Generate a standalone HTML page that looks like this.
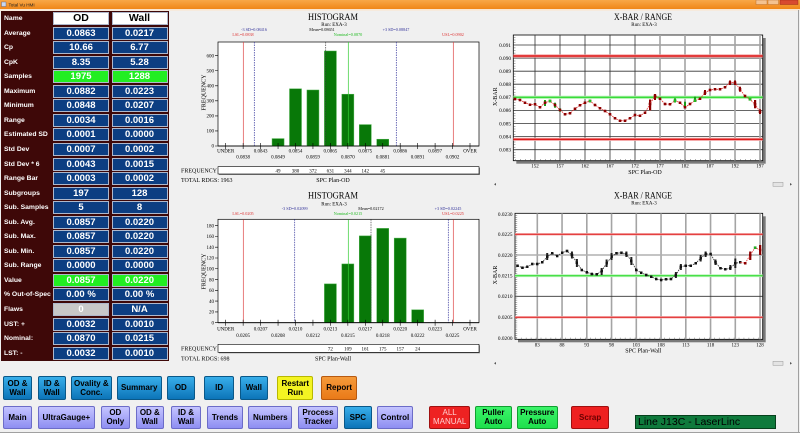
<!DOCTYPE html>
<html><head><meta charset="utf-8">
<style>
*{margin:0;padding:0;box-sizing:border-box}
body{width:800px;height:433px;overflow:hidden;background:#f0f0f0;position:relative;font-family:"Liberation Sans",Arial,sans-serif}
svg{position:absolute;left:0;top:0}
.lab{position:absolute;left:4px;color:#fff;font-weight:bold;font-size:6.8px;line-height:13px;white-space:nowrap}
.c{position:absolute;height:13px;width:56px;background:#0c3e82;border:1px solid #aeb8cc;color:#fff;font-weight:bold;font-size:9.5px;line-height:11px;text-align:center;white-space:nowrap}
.o{left:53px}.w{left:111.5px}
.g{background:#22ee22}
.h{background:#fff;color:#000;font-size:10.5px}
.gr{background:#c8c8c8}
.b{position:absolute;display:flex;align-items:center;justify-content:center;text-align:center;font-weight:bold;font-size:8px;line-height:9px;color:#000;border-radius:2px;white-space:nowrap}
.bl{background:linear-gradient(#38aeea,#0c74b8);border:1px solid #0a5888}
.lv{background:linear-gradient(#c4c4ff,#8e8ef2);border:1px solid #6c6cc8}
.r1{top:376px;height:23.5px}
.r2{top:405.7px;height:23.6px}
</style></head><body>

<svg width="800" height="433" viewBox="0 0 800 433" xmlns="http://www.w3.org/2000/svg">
<defs>
<linearGradient id="tb" x1="0" y1="0" x2="0" y2="1"><stop offset="0" stop-color="#f8a848"/><stop offset="1" stop-color="#f08618"/></linearGradient>
<marker id="mr" markerUnits="userSpaceOnUse" markerWidth="2.6" markerHeight="2.6" refX="1.3" refY="1.3"><rect width="2.6" height="2.6" fill="#8b0000"/></marker>
<marker id="mk" markerUnits="userSpaceOnUse" markerWidth="2.6" markerHeight="2.6" refX="1.3" refY="1.3"><rect width="2.6" height="2.6" fill="#111"/></marker>
</defs>
<!-- title bar -->
<rect x="0" y="0" width="800" height="9" fill="url(#tb)"/>
<rect x="0" y="9" width="800" height="1.6" fill="#fae6d0"/>
<rect x="1.5" y="2" width="4.5" height="4.5" fill="#c8d8f0" stroke="#557" stroke-width="0.4"/>
<text x="8.5" y="6.3" font-size="4.6" fill="#222" font-family="Liberation Sans, sans-serif">Total Vu HMI</text>
<rect x="756" y="0" width="11" height="4.5" fill="#f4c290" stroke="#b06020" stroke-width="0.4"/>
<rect x="768" y="0" width="10.5" height="4.5" fill="#f4c290" stroke="#b06020" stroke-width="0.4"/>
<rect x="780" y="0" width="18" height="4.5" fill="#d84a30" stroke="#902010" stroke-width="0.4"/>
<line x1="798.5" y1="10" x2="798.5" y2="433" stroke="#a0a0a0" stroke-width="1"/>
<line x1="0" y1="432.5" x2="800" y2="432.5" stroke="#a0a0a0" stroke-width="1"/>

<g font-family="Liberation Serif, serif" fill="#000">
<!-- ================= HISTOGRAM 1 ================= -->
<text x="333" y="20" font-size="9" text-anchor="middle" textLength="50" lengthAdjust="spacingAndGlyphs">HISTOGRAM</text>
<text x="334" y="26.2" font-size="5" text-anchor="middle">Run: EXA-3</text>
<g font-size="4.2" text-anchor="middle">
<text x="254" y="31" fill="#33339a">-3 SD=0.08416</text>
<text x="322" y="31">Mean=0.08651</text>
<text x="396" y="31" fill="#33339a">+3 SD=0.08847</text>
<text x="243" y="36" fill="#dd3333">LSL=0.0838</text>
<text x="348" y="36" fill="#22bb22">Nominal=0.0870</text>
<text x="453" y="36" fill="#dd3333">USL=0.0902</text>
</g>
<rect x="218" y="42" width="261" height="104" fill="#fff" stroke="#000" stroke-width="0.7"/>
<g fill="#087808" stroke="#48b048" stroke-width="0.5">
<rect x="272.05" y="138.6" width="12" height="7.4"/>
<rect x="289.5" y="88.8" width="12" height="57.2"/>
<rect x="306.95" y="90" width="12" height="56"/>
<rect x="324.4" y="51" width="12" height="95"/>
<rect x="341.85" y="94.2" width="12" height="51.8"/>
<rect x="359.3" y="124.6" width="12" height="21.4"/>
<rect x="376.75" y="139.2" width="12" height="6.8"/>
</g>
<g stroke-width="0.7">
<line x1="243.3" y1="42" x2="243.3" y2="146" stroke="#dd4444"/>
<line x1="254.3" y1="42" x2="254.3" y2="146" stroke="#33339a" stroke-dasharray="1.5 1"/>
<line x1="325.7" y1="42" x2="325.7" y2="146" stroke="#444" stroke-dasharray="1.5 1"/>
<line x1="348.3" y1="42" x2="348.3" y2="146" stroke="#33cc33"/>
<line x1="396.3" y1="42" x2="396.3" y2="146" stroke="#33339a" stroke-dasharray="1.5 1"/>
<line x1="453.3" y1="42" x2="453.3" y2="146" stroke="#dd4444"/>
</g>
<line x1="218" y1="146" x2="479" y2="146" stroke="#000" stroke-width="0.8"/>
<g font-size="5" text-anchor="end">
<text x="214" y="147.7">0</text><text x="214" y="132.6">100</text><text x="214" y="117.6">200</text><text x="214" y="102.5">300</text><text x="214" y="87.5">400</text><text x="214" y="72.4">500</text><text x="214" y="57.4">600</text>
</g>
<path d="M215 146H218M215 130.95H218M215 115.9H218M215 100.85H218M215 85.8H218M215 70.75H218M215 55.7H218" stroke="#000" stroke-width="0.6"/>
<path d="M225.7 143V149M243.15 143V149M260.6 143V149M278.05 143V149M295.5 143V149M312.95 143V149M330.4 143V149M347.85 143V149M365.3 143V149M382.75 143V149M400.2 143V149M417.65 143V149M435.1 143V149M452.55 143V149M470 143V149" stroke="#000" stroke-width="0.6"/>
<g font-size="5" text-anchor="middle">
<text x="225.7" y="152.5">UNDER</text><text x="260.6" y="152.5">0.0843</text><text x="295.5" y="152.5">0.0854</text><text x="330.4" y="152.5">0.0865</text><text x="365.3" y="152.5">0.0875</text><text x="400.2" y="152.5">0.0886</text><text x="435.1" y="152.5">0.0897</text><text x="470" y="152.5">OVER</text>
<text x="243.15" y="158.7">0.0838</text><text x="278.05" y="158.7">0.0849</text><text x="312.95" y="158.7">0.0859</text><text x="347.85" y="158.7">0.0870</text><text x="382.75" y="158.7">0.0881</text><text x="417.65" y="158.7">0.0891</text><text x="452.55" y="158.7">0.0902</text>
</g>
<text transform="translate(205.5,92.5) rotate(-90)" font-size="6" text-anchor="middle">FREQUENCY</text>
<rect x="219" y="167.7" width="261" height="7.3" fill="#888"/>
<rect x="218" y="166.7" width="261" height="7.3" fill="#fff" stroke="#000" stroke-width="0.6"/>
<text x="217" y="172.6" font-size="6" text-anchor="end">FREQUENCY</text>
<g font-size="5" text-anchor="middle">
<text x="278.05" y="172.4">49</text><text x="295.5" y="172.4">380</text><text x="312.95" y="172.4">372</text><text x="330.4" y="172.4">631</text><text x="347.85" y="172.4">344</text><text x="365.3" y="172.4">142</text><text x="382.75" y="172.4">45</text>
</g>
<text x="181" y="182" font-size="6">TOTAL RDGS: 1963</text>
<text x="333" y="182" font-size="6" text-anchor="middle">SPC Plan-OD</text>

<!-- ================= HISTOGRAM 2 ================= -->
<text x="333" y="198.5" font-size="9" text-anchor="middle" textLength="50" lengthAdjust="spacingAndGlyphs">HISTOGRAM</text>
<text x="334" y="205.5" font-size="5" text-anchor="middle">Run: EXA-3</text>
<g font-size="4.2" text-anchor="middle">
<text x="294.7" y="209.8" fill="#33339a">-3 SD=0.02099</text>
<text x="371" y="209.8">Mean=0.02172</text>
<text x="448" y="209.8" fill="#33339a">+3 SD=0.02245</text>
<text x="243" y="214.8" fill="#dd3333">LSL=0.0205</text>
<text x="348" y="214.8" fill="#22bb22">Nominal=0.0215</text>
<text x="453" y="214.8" fill="#dd3333">USL=0.0225</text>
</g>
<rect x="218" y="219.3" width="261" height="103.4" fill="#fff" stroke="#000" stroke-width="0.7"/>
<g fill="#087808" stroke="#48b048" stroke-width="0.5">
<rect x="324.4" y="283.9" width="12" height="38.8"/>
<rect x="341.85" y="263.95" width="12" height="58.75"/>
<rect x="359.3" y="235.9" width="12" height="86.8"/>
<rect x="376.75" y="228.4" width="12" height="94.3"/>
<rect x="394.2" y="238.1" width="12" height="84.6"/>
<rect x="411.65" y="309.8" width="12" height="12.9"/>
</g>
<g stroke-width="0.7">
<line x1="243.3" y1="219.3" x2="243.3" y2="322.7" stroke="#dd4444"/>
<line x1="294.7" y1="219.3" x2="294.7" y2="322.7" stroke="#33339a" stroke-dasharray="1.5 1"/>
<line x1="348.3" y1="219.3" x2="348.3" y2="322.7" stroke="#33cc33"/>
<line x1="371" y1="219.3" x2="371" y2="322.7" stroke="#444" stroke-dasharray="1.5 1"/>
<line x1="448.3" y1="219.3" x2="448.3" y2="322.7" stroke="#33339a" stroke-dasharray="1.5 1"/>
<line x1="453.3" y1="219.3" x2="453.3" y2="322.7" stroke="#dd4444"/>
</g>
<line x1="218" y1="322.7" x2="479" y2="322.7" stroke="#000" stroke-width="0.8"/>
<g font-size="5" text-anchor="end">
<text x="214" y="324.4">0</text><text x="214" y="313.6">20</text><text x="214" y="302.8">40</text><text x="214" y="292.1">60</text><text x="214" y="281.3">80</text><text x="214" y="270.5">100</text><text x="214" y="259.7">120</text><text x="214" y="248.9">140</text><text x="214" y="238.2">160</text><text x="214" y="227.4">180</text>
</g>
<path d="M215 322.7H218M215 311.9H218M215 301.1H218M215 290.4H218M215 279.6H218M215 268.75H218M215 258H218M215 247.2H218M215 236.5H218M215 225.7H218" stroke="#000" stroke-width="0.6"/>
<path d="M225.7 319.7V325.7M243.15 319.7V325.7M260.6 319.7V325.7M278.05 319.7V325.7M295.5 319.7V325.7M312.95 319.7V325.7M330.4 319.7V325.7M347.85 319.7V325.7M365.3 319.7V325.7M382.75 319.7V325.7M400.2 319.7V325.7M417.65 319.7V325.7M435.1 319.7V325.7M452.55 319.7V325.7M470 319.7V325.7" stroke="#000" stroke-width="0.6"/>
<g font-size="5" text-anchor="middle">
<text x="225.7" y="330.5">UNDER</text><text x="260.6" y="330.5">0.0207</text><text x="295.5" y="330.5">0.0210</text><text x="330.4" y="330.5">0.0213</text><text x="365.3" y="330.5">0.0217</text><text x="400.2" y="330.5">0.0220</text><text x="435.1" y="330.5">0.0223</text><text x="470" y="330.5">OVER</text>
<text x="243.15" y="336.8">0.0205</text><text x="278.05" y="336.8">0.0208</text><text x="312.95" y="336.8">0.0212</text><text x="347.85" y="336.8">0.0215</text><text x="382.75" y="336.8">0.0218</text><text x="417.65" y="336.8">0.0222</text><text x="452.55" y="336.8">0.0225</text>
</g>
<text transform="translate(205.5,271.5) rotate(-90)" font-size="6" text-anchor="middle">FREQUENCY</text>
<rect x="219" y="345.3" width="261" height="8" fill="#888"/>
<rect x="218" y="344.3" width="261" height="8" fill="#fff" stroke="#000" stroke-width="0.6"/>
<text x="217" y="350.6" font-size="6" text-anchor="end">FREQUENCY</text>
<g font-size="5" text-anchor="middle">
<text x="330.4" y="350.3">72</text><text x="347.85" y="350.3">109</text><text x="365.3" y="350.3">161</text><text x="382.75" y="350.3">175</text><text x="400.2" y="350.3">157</text><text x="417.65" y="350.3">24</text>
</g>
<text x="181" y="360.5" font-size="6">TOTAL RDGS: 698</text>
<text x="333" y="360.5" font-size="6" text-anchor="middle">SPC Plan-Wall</text>

<!-- ================= X-BAR 1 ================= -->
<text x="643" y="20" font-size="9" text-anchor="middle" textLength="58" lengthAdjust="spacingAndGlyphs">X-BAR / RANGE</text>
<text x="644" y="26" font-size="5" text-anchor="middle">Run: EXA-3</text>
<rect x="516.3" y="38" width="249.4" height="125.7" fill="#7a7a7a"/>
<rect x="513.3" y="35" width="249.4" height="125.7" fill="#fff" stroke="#000" stroke-width="0.8"/>
<path d="M513.3 45H762.7M513.3 58.1H762.7M513.3 71.2H762.7M513.3 84.2H762.7M513.3 110.4H762.7M513.3 123.5H762.7M513.3 136.6H762.7M513.3 149.7H762.7" stroke="#333" stroke-width="0.8"/>
<path d="M535 35V160.7M560 35V160.7M585 35V160.7M610 35V160.7M635 35V160.7" stroke="#333" stroke-width="0.8"/>
<path d="M660 35V160.7M685 35V160.7M710 35V160.7M735 35V160.7M760 35V160.7" stroke="#a4a4a4" stroke-width="1.6"/>
<line x1="514.6" y1="37.15" x2="514.6" y2="160.7" stroke="#666" stroke-width="1.8" stroke-dasharray="0.5 2.116"/>
<line x1="515" y1="159.8" x2="762" y2="159.8" stroke="#666" stroke-width="1.6" stroke-dasharray="0.5 4.5"/>
<line x1="513.3" y1="56" x2="762.7" y2="56" stroke="#f4a0a0" stroke-width="3.2"/>
<line x1="513.3" y1="56" x2="762.7" y2="56" stroke="#dd1a1a" stroke-width="1.4"/>
<line x1="513.3" y1="139.3" x2="762.7" y2="139.3" stroke="#f4a0a0" stroke-width="3.2"/>
<line x1="513.3" y1="139.3" x2="762.7" y2="139.3" stroke="#dd1a1a" stroke-width="1.4"/>
<line x1="513.3" y1="97.3" x2="762.7" y2="97.3" stroke="#b0f0b0" stroke-width="3.2"/>
<line x1="513.3" y1="97.3" x2="762.7" y2="97.3" stroke="#38dd38" stroke-width="1.4"/>
<g>
<rect x="544" y="100" width="2" height="6" fill="#1a9a1a"/>
<rect x="554" y="102.7" width="2" height="5" fill="#1a9a1a"/>
<rect x="559" y="108.3" width="2" height="3.4" fill="#1a9a1a"/>
<rect x="649" y="99.5" width="2.2" height="11" fill="#8b0000"/>
<rect x="654" y="94" width="2" height="6" fill="#8b0000"/>
<rect x="674" y="98.3" width="2" height="4.2" fill="#1a9a1a"/>
<rect x="684" y="101.7" width="2" height="6" fill="#1a9a1a"/>
<rect x="694" y="96.7" width="2" height="5.3" fill="#1a9a1a"/>
<rect x="704" y="90" width="2" height="5" fill="#8b0000"/>
<rect x="729" y="80.5" width="2" height="4.5" fill="#8b0000"/>
<rect x="734" y="80.5" width="2" height="4.5" fill="#8b0000"/>
<rect x="739" y="86.7" width="2" height="5" fill="#8b0000"/>
<rect x="754" y="100" width="2.2" height="8.3" fill="#8b0000"/>
<rect x="759" y="109.3" width="2" height="4.7" fill="#8b0000"/>
</g>
<polyline fill="none" stroke="#e83030" stroke-width="0.8" stroke-dasharray="1.6 0.9" marker-start="url(#mr)" marker-mid="url(#mr)" marker-end="url(#mr)" points="515,99 520,100 525,102.7 530,104.7 535,104.3 540,107.3 545,102.7 550,101 555,105 560,110 565,114.3 570,113.3 575,108.7 580,105.3 585,102.7 590,101 595,105 600,108.3 605,111 610,114.3 615,118.3 620,120.7 625,120.7 630,118.3 635,115 640,115.7 645,112.7 650,104 655,95.7 660,98.7 665,104 670,104.3 675,100.7 680,102.7 685,107.3 690,104 695,100.7 700,98.7 705,92.7 710,90 715,89.3 720,89.3 725,87.3 730,82.7 735,82.7 740,89.3 745,96 750,99.3 755,104.3 760,111.7"/>
<g fill="#22bb22">
<rect x="548.7" y="99.7" width="2.6" height="2.6"/><rect x="588.7" y="99.7" width="2.6" height="2.6"/><rect x="673.7" y="99.4" width="2.6" height="2.6"/><rect x="693.7" y="99.4" width="2.6" height="2.6"/><rect x="748.7" y="98" width="2.6" height="2.6"/>
</g>
<g font-size="5.3" text-anchor="end">
<text x="511" y="46.8">0.091</text><text x="511" y="59.9">0.090</text><text x="511" y="73">0.089</text><text x="511" y="86">0.088</text><text x="511" y="99.1">0.087</text><text x="511" y="112.2">0.086</text><text x="511" y="125.3">0.085</text><text x="511" y="138.4">0.084</text><text x="511" y="151.5">0.083</text>
</g>
<g font-size="5" text-anchor="middle">
<text x="535" y="167.5">152</text><text x="560" y="167.5">157</text><text x="585" y="167.5">162</text><text x="610" y="167.5">167</text><text x="635" y="167.5">172</text><text x="660" y="167.5">177</text><text x="685" y="167.5">182</text><text x="710" y="167.5">187</text><text x="735" y="167.5">192</text><text x="760" y="167.5">197</text>
</g>
<text x="645" y="174" font-size="6" text-anchor="middle">SPC Plan-OD</text>
<text transform="translate(497,96.7) rotate(-90)" font-size="6" text-anchor="middle">X-BAR</text>
<!-- scrollbar 1 -->
<polygon points="494,184.3 496,183 496,185.6" fill="#555"/>
<rect x="773" y="182.3" width="10" height="4" fill="#e4e4e4" stroke="#999" stroke-width="0.5"/>
<polygon points="792,184.3 790,183 790,185.6" fill="#555"/>

<!-- ================= X-BAR 2 ================= -->
<text x="643" y="198.5" font-size="9" text-anchor="middle" textLength="58" lengthAdjust="spacingAndGlyphs">X-BAR / RANGE</text>
<text x="644" y="204.5" font-size="5" text-anchor="middle">Run: EXA-3</text>
<rect x="518" y="216.3" width="247.7" height="126" fill="#7a7a7a"/>
<rect x="515" y="213.3" width="247.7" height="126" fill="#fff" stroke="#000" stroke-width="0.8"/>
<path d="M537.3 213.3V339.3M562.05 213.3V339.3M586.8 213.3V339.3M611.55 213.3V339.3M636.3 213.3V339.3M661.05 213.3V339.3M685.8 213.3V339.3M710.55 213.3V339.3M735.3 213.3V339.3M760.05 213.3V339.3" stroke="#a4a4a4" stroke-width="1.6"/>
<line x1="515" y1="255" x2="762.7" y2="255" stroke="#b0b0b0" stroke-width="1.6"/>
<line x1="515" y1="296.3" x2="762.7" y2="296.3" stroke="#333" stroke-width="0.8"/>
<line x1="516.3" y1="215" x2="516.3" y2="339.3" stroke="#666" stroke-width="1.8" stroke-dasharray="0.5 1.57"/>
<line x1="516" y1="338.4" x2="762" y2="338.4" stroke="#666" stroke-width="1.6" stroke-dasharray="0.5 4.45"/>
<line x1="515" y1="234.3" x2="762.7" y2="234.3" stroke="#f6b0b0" stroke-width="2.4"/>
<line x1="515" y1="234.3" x2="762.7" y2="234.3" stroke="#dd1a1a" stroke-width="1"/>
<line x1="515" y1="317.3" x2="762.7" y2="317.3" stroke="#f6b0b0" stroke-width="2.4"/>
<line x1="515" y1="317.3" x2="762.7" y2="317.3" stroke="#dd1a1a" stroke-width="1"/>
<line x1="515" y1="275.7" x2="762.7" y2="275.7" stroke="#bdf3bd" stroke-width="2.8"/>
<line x1="515" y1="275.7" x2="762.7" y2="275.7" stroke="#48e048" stroke-width="1.3"/>
<g fill="#222">
<rect x="546.2" y="253" width="2" height="7"/>
<rect x="570.95" y="251.5" width="2" height="7"/>
<rect x="575.9" y="259" width="2" height="8"/>
<rect x="600.65" y="268" width="2" height="7"/>
<rect x="605.6" y="259.5" width="2" height="7.5"/>
<rect x="610.55" y="253" width="2" height="7"/>
<rect x="625.4" y="251.5" width="2" height="5.5"/>
<rect x="630.35" y="257" width="2" height="8"/>
<rect x="674.9" y="272" width="2" height="6"/>
<rect x="679.85" y="264" width="2" height="6"/>
<rect x="699.65" y="255" width="2" height="6.5"/>
<rect x="704.6" y="251.5" width="2" height="5.5"/>
<rect x="714.5" y="259.5" width="2" height="5.5"/>
<rect x="729.35" y="265" width="2" height="5"/>
<rect x="734.3" y="258.5" width="2" height="9.5"/>
</g>
<rect x="749.15" y="251.5" width="2.2" height="8.5" fill="#8b0000"/>
<rect x="759.05" y="245" width="2.2" height="10" fill="#8b0000"/>
<polyline fill="none" stroke="#333" stroke-width="0.8" stroke-dasharray="1.6 0.9" marker-start="url(#mk)" marker-mid="url(#mk)" marker-end="url(#mk)" points="517.5,265.7 522.45,267.7 527.4,266.7 532.35,264 537.3,264 542.25,262.3 547.2,256.7 552.15,253.3 557.1,256 562.05,252.7 567,251 571.95,255 576.9,262.7 581.85,270 586.8,272.3 591.75,274 596.7,274.3 601.65,271 606.6,263.3 611.55,256.7 616.5,253.3 621.45,252.7 626.4,254 631.35,261 636.3,270 641.25,272.7 646.2,275 651.15,276.7 656.1,279 661.05,280 666,279.3 670.95,279 675.9,275 680.85,266.7 685.8,265.7 690.75,265.7 695.7,263.3 700.65,258.3 705.6,254 710.55,254 715.5,262.3 720.45,268.3 725.4,269.3 730.35,268.3 735.3,263.3 740.25,262.3"/>
<polyline fill="none" stroke="#e83030" stroke-width="0.8" stroke-dasharray="1.6 0.9" marker-mid="url(#mr)" marker-end="url(#mr)" points="740.25,262.3 745.2,263.3 750.15,255 755.1,247.7 760.05,250"/>
<rect x="753.8" y="246.4" width="2.6" height="2.6" fill="#22aa22"/>
<g font-size="5.3" text-anchor="end">
<text x="512.5" y="215.8">0.0230</text><text x="512.5" y="236.1">0.0225</text><text x="512.5" y="256.8">0.0220</text><text x="512.5" y="277.5">0.0215</text><text x="512.5" y="298.1">0.0210</text><text x="512.5" y="319.1">0.0205</text><text x="512.5" y="340.1">0.0200</text>
</g>
<g font-size="5" text-anchor="middle">
<text x="537.3" y="346.3">83</text><text x="562.05" y="346.3">88</text><text x="586.8" y="346.3">93</text><text x="611.55" y="346.3">98</text><text x="636.3" y="346.3">103</text><text x="661.05" y="346.3">108</text><text x="685.8" y="346.3">113</text><text x="710.55" y="346.3">118</text><text x="735.3" y="346.3">123</text><text x="760.05" y="346.3">128</text>
</g>
<text x="643.3" y="352.5" font-size="6" text-anchor="middle">SPC Plan-Wall</text>
<text transform="translate(497,275) rotate(-90)" font-size="6" text-anchor="middle">X-BAR</text>
<!-- scrollbar 2 -->
<polygon points="494,363.3 496,362 496,364.6" fill="#555"/>
<rect x="773" y="361.3" width="10" height="4" fill="#e4e4e4" stroke="#999" stroke-width="0.5"/>
<polygon points="792,363.3 790,362 790,364.6" fill="#555"/>
</g>
</svg>

<!-- ============ LEFT TABLE ============ -->
<div style="position:absolute;left:1px;top:11px;width:168px;height:350px;background:#3e0808"></div>

<div class="lab" style="top:12px">Name</div><div class="c o h" style="top:12px">OD</div><div class="c w h" style="top:12px">Wall</div>
<div class="lab" style="top:26.5px">Average</div><div class="c o" style="top:26.5px">0.0863</div><div class="c w" style="top:26.5px">0.0217</div>
<div class="lab" style="top:41.1px">Cp</div><div class="c o" style="top:41.1px">10.66</div><div class="c w" style="top:41.1px">6.77</div>
<div class="lab" style="top:55.6px">CpK</div><div class="c o" style="top:55.6px">8.35</div><div class="c w" style="top:55.6px">5.28</div>
<div class="lab" style="top:70.2px">Samples</div><div class="c o g" style="top:70.2px">1975</div><div class="c w g" style="top:70.2px">1288</div>
<div class="lab" style="top:84.7px">Maximum</div><div class="c o" style="top:84.7px">0.0882</div><div class="c w" style="top:84.7px">0.0223</div>
<div class="lab" style="top:99.3px">Minimum</div><div class="c o" style="top:99.3px">0.0848</div><div class="c w" style="top:99.3px">0.0207</div>
<div class="lab" style="top:113.8px">Range</div><div class="c o" style="top:113.8px">0.0034</div><div class="c w" style="top:113.8px">0.0016</div>
<div class="lab" style="top:128.4px">Estimated SD</div><div class="c o" style="top:128.4px">0.0001</div><div class="c w" style="top:128.4px">0.0000</div>
<div class="lab" style="top:142.9px">Std Dev</div><div class="c o" style="top:142.9px">0.0007</div><div class="c w" style="top:142.9px">0.0002</div>
<div class="lab" style="top:157.5px">Std Dev * 6</div><div class="c o" style="top:157.5px">0.0043</div><div class="c w" style="top:157.5px">0.0015</div>
<div class="lab" style="top:172px">Range Bar</div><div class="c o" style="top:172px">0.0003</div><div class="c w" style="top:172px">0.0002</div>
<div class="lab" style="top:186.6px">Subgroups</div><div class="c o" style="top:186.6px">197</div><div class="c w" style="top:186.6px">128</div>
<div class="lab" style="top:201.1px">Sub. Samples</div><div class="c o" style="top:201.1px">5</div><div class="c w" style="top:201.1px">8</div>
<div class="lab" style="top:215.7px">Sub. Avg.</div><div class="c o" style="top:215.7px">0.0857</div><div class="c w" style="top:215.7px">0.0220</div>
<div class="lab" style="top:230.2px">Sub. Max.</div><div class="c o" style="top:230.2px">0.0857</div><div class="c w" style="top:230.2px">0.0220</div>
<div class="lab" style="top:244.8px">Sub. Min.</div><div class="c o" style="top:244.8px">0.0857</div><div class="c w" style="top:244.8px">0.0220</div>
<div class="lab" style="top:259.3px">Sub. Range</div><div class="c o" style="top:259.3px">0.0000</div><div class="c w" style="top:259.3px">0.0000</div>
<div class="lab" style="top:273.9px">Value</div><div class="c o g" style="top:273.9px">0.0857</div><div class="c w g" style="top:273.9px">0.0220</div>
<div class="lab" style="top:288.4px">% Out-of-Spec</div><div class="c o" style="top:288.4px">0.00 %</div><div class="c w" style="top:288.4px">0.00 %</div>
<div class="lab" style="top:303px">Flaws</div><div class="c o gr" style="top:303px">0</div><div class="c w" style="top:303px">N/A</div>
<div class="lab" style="top:317.5px">UST: +</div><div class="c o" style="top:317.5px">0.0032</div><div class="c w" style="top:317.5px">0.0010</div>
<div class="lab" style="top:332.1px">Nominal:</div><div class="c o" style="top:332.1px">0.0870</div><div class="c w" style="top:332.1px">0.0215</div>
<div class="lab" style="top:346.6px">LST: -</div><div class="c o" style="top:346.6px">0.0032</div><div class="c w" style="top:346.6px">0.0010</div>

<!-- ============ BUTTONS ============ -->
<div class="b bl r1" style="left:2.7px;width:29.6px">OD &amp;<br>Wall</div>
<div class="b bl r1" style="left:37.7px;width:28px">ID &amp;<br>Wall</div>
<div class="b bl r1" style="left:71px;width:40.7px">Ovality &amp;<br>Conc.</div>
<div class="b bl r1" style="left:116.7px;width:45px">Summary</div>
<div class="b bl r1" style="left:166.7px;width:28.3px">OD</div>
<div class="b bl r1" style="left:204px;width:30.3px">ID</div>
<div class="b bl r1" style="left:240px;width:27.7px">Wall</div>
<div class="b r1" style="left:277.3px;width:36px;background:#f4f422;border:1px solid #b8b800">Restart<br>Run</div>
<div class="b r1" style="left:321px;width:36.3px;background:linear-gradient(#f59a3a,#ea7a18);border:1px solid #b85a10">Report</div>

<div class="b lv r2" style="left:2.7px;width:29.6px">Main</div>
<div class="b lv r2" style="left:37.7px;width:57.3px">UltraGauge+</div>
<div class="b lv r2" style="left:100.7px;width:29.3px">OD<br>Only</div>
<div class="b lv r2" style="left:135.7px;width:28.3px">OD &amp;<br>Wall</div>
<div class="b lv r2" style="left:171px;width:30px">ID &amp;<br>Wall</div>
<div class="b lv r2" style="left:206.7px;width:36.6px">Trends</div>
<div class="b lv r2" style="left:248.3px;width:44px">Numbers</div>
<div class="b lv r2" style="left:297.7px;width:40.6px">Process<br>Tracker</div>
<div class="b bl r2" style="left:344px;width:27.7px">SPC</div>
<div class="b lv r2" style="left:376.7px;width:36.6px">Control</div>
<div class="b r2" style="left:429.3px;width:40.7px;background:#ee2222;border:1px solid #a01010;color:#ffd0d0;font-weight:normal">ALL<br>MANUAL</div>
<div class="b r2" style="left:475px;width:36.7px;background:linear-gradient(#3cf46a,#1ee04c);border:1px solid #10a030">Puller<br>Auto</div>
<div class="b r2" style="left:516.7px;width:41px;background:linear-gradient(#3cf46a,#1ee04c);border:1px solid #10a030">Pressure<br>Auto</div>
<div class="b r2" style="left:571px;width:38.3px;background:#ee2020;border:1px solid #a01010;color:#6a0000">Scrap</div>

<div style="position:absolute;left:635px;top:415px;width:140.7px;height:14.3px;background:#0f7a3c;border:1px solid #06401c;font-size:10.5px;line-height:12.3px;color:#000;padding-left:2px;white-space:nowrap">Line J13C - LaserLinc</div>

</body></html>
